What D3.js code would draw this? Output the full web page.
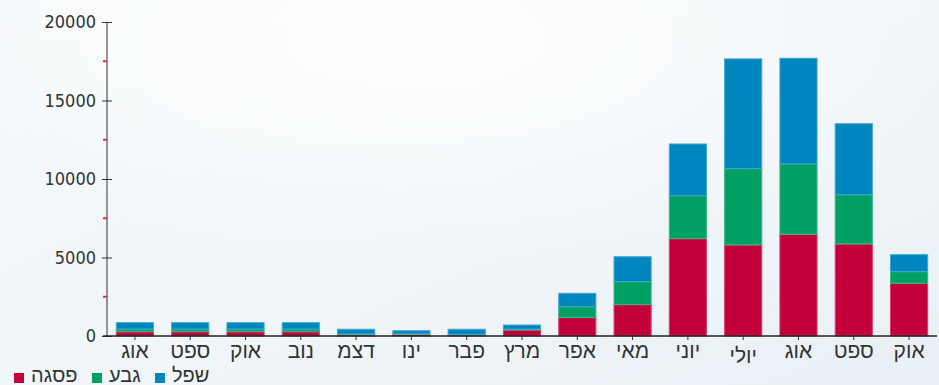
<!DOCTYPE html>
<html>
<head>
<meta charset="utf-8">
<script src="https://cdn.jsdelivr.net/npm/d3@7"></script>
<style>
  html, body { margin: 0; padding: 0; background: #ffffff; }
  svg { display: block; }
</style>
</head>
<body>
<svg id="chart" width="939" height="385"></svg>
<script>
// ---- data ----
const categories = ["אוג","ספט","אוק","נוב","דצמ","ינו","פבר","מרץ","אפר","מאי","יוני","יולי","אוג","ספט","אוק"];
const seriesNames = ["פסגה","גבע","שפל"];
const peak = [270, 270, 270, 270, 70, 110, 60, 380, 1170, 2000, 6200, 5800, 6480, 5860, 3360];
const mid  = [170, 170, 170, 170, 60, 30, 50, 60, 700, 1460, 2740, 4860, 4480, 3140, 740];
const low  = [410, 410, 410, 410, 300, 200, 320, 260, 850, 1590, 3290, 6990, 6730, 4520, 1080];
const yTicks = [0, 5000, 10000, 15000, 20000];
const yMinorTicks = [2500, 7500, 12500, 17500];

const colors = ["#c4003a", "#00a064", "#0086bf"];
const strokes = ["#d8406a", "#3ab985", "#45a6d4"];
const NUMFONT = "'DejaVu Sans Condensed', 'DejaVu Sans', sans-serif";
const HEBFONT = "'Liberation Sans', Arial, sans-serif";

const svg = d3.select("#chart");
const W = 939, H = 385;

// background
const defs = svg.append("defs");
const lg = defs.append("linearGradient").attr("id", "bg").attr("x1", "0").attr("y1", "0").attr("x2", "1").attr("y2", "1");
lg.append("stop").attr("offset", "0%").attr("stop-color", "#f6f9fb");
lg.append("stop").attr("offset", "50%").attr("stop-color", "#f1f6f9");
lg.append("stop").attr("offset", "100%").attr("stop-color", "#e9f0f5");
const rg = defs.append("radialGradient").attr("id", "glow").attr("cx", "0.45").attr("cy", "0.1").attr("r", "0.6");
rg.append("stop").attr("offset", "0%").attr("stop-color", "#ffffff").attr("stop-opacity", 0.9);
rg.append("stop").attr("offset", "100%").attr("stop-color", "#ffffff").attr("stop-opacity", 0);
svg.append("rect").attr("width", W).attr("height", H).attr("fill", "url(#bg)");
svg.append("rect").attr("width", W).attr("height", H).attr("fill", "url(#glow)");

// scales
const x = d3.scaleBand().domain(d3.range(categories.length)).range([107, 937]).paddingInner(0.31).paddingOuter(0.16);
const y = d3.scaleLinear().domain([0, 20000]).range([336, 22]);

// stack
const rows = categories.map((c, i) => ({ i, s0: peak[i], s1: mid[i], s2: low[i] }));
const stack = d3.stack().keys(["s0", "s1", "s2"])(rows);

const g = svg.append("g");
stack.forEach((layer, li) => {
  g.selectAll(null).data(layer).enter().append("rect")
    .attr("x", d => x(d.data.i) + 0.5)
    .attr("width", x.bandwidth() - 1)
    .attr("y", d => y(d[1]))
    .attr("height", d => Math.max(0, y(d[0]) - y(d[1])))
    .attr("fill", colors[li])
    .attr("stroke", strokes[li])
    .attr("stroke-width", 1);
});

// y axis
const yAxis = svg.append("g").attr("transform", "translate(107,0)")
  .call(d3.axisLeft(y).tickValues(yTicks).tickSizeInner(5).tickSizeOuter(0).tickPadding(6).tickFormat(d3.format("d")));
yAxis.select(".domain").attr("stroke", "#333").attr("d", `M0,${y(20000)}V${y(0)}`);
yAxis.selectAll(".tick line").attr("stroke", "#333").attr("x2", -5).attr("x1", 5);
yAxis.selectAll(".tick text").attr("fill", "#333").style("font-family", NUMFONT).style("font-size", "18px").attr("x", -11);

// minor ticks (red)
svg.append("g").selectAll("line").data(yMinorTicks).enter().append("line")
  .attr("x1", 103).attr("x2", 107)
  .attr("y1", d => y(d)).attr("y2", d => y(d))
  .attr("stroke", "#f02a2a").attr("stroke-width", 2);

// x axis
const xAxis = svg.append("g").attr("transform", `translate(0,${y(0)})`)
  .call(d3.axisBottom(x).tickSizeInner(4).tickSizeOuter(0).tickPadding(3).tickFormat(i => categories[i]));
xAxis.select(".domain").attr("stroke", "#222").attr("stroke-width", 1.5).attr("d", "M103,0H937");
xAxis.selectAll(".tick line").attr("stroke", "#333");
xAxis.selectAll(".tick text").attr("fill", "#333").style("font-family", HEBFONT).style("font-size", "21px")
  .attr("dy", i => /ל/.test(categories[i]) ? "0.95em" : "0.71em");

// legend
const legend = svg.append("g").attr("transform", "translate(0,377)");
const legendX = [14, 92, 155];
seriesNames.forEach((name, i) => {
  legend.append("rect").attr("x", legendX[i]).attr("y", -4).attr("width", 10).attr("height", 10)
    .attr("fill", colors[i]);
  legend.append("text").attr("x", legendX[i] + 17).attr("y", 5)
    .attr("fill", "#333").style("font-family", HEBFONT).style("font-size", "20px")
    .text(name);
});
</script>
</body>
</html>
